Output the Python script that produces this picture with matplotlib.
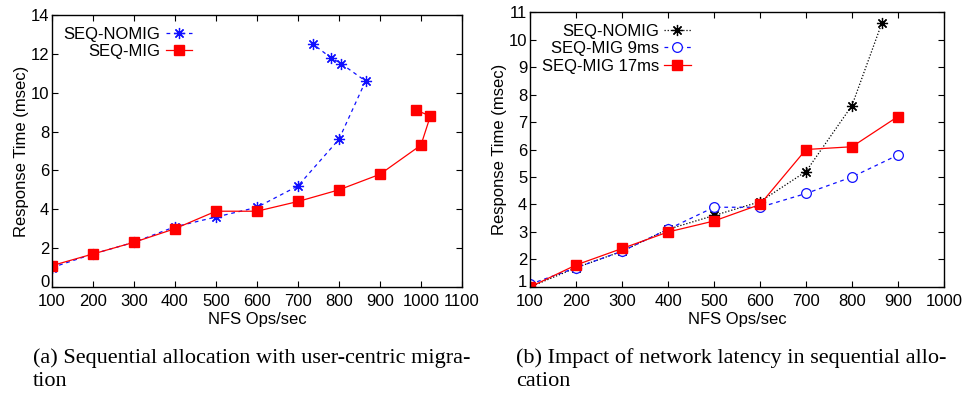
import numpy as np
import matplotlib.pyplot as plt

# (a) Sequential allocation with user-centric migration
a_nomig_x = [100, 200, 300, 400, 500, 600, 700, 800, 865, 805, 780, 737]
a_nomig_y = [1.0, 1.7, 2.3, 3.1, 3.6, 4.1, 5.2, 7.6, 10.6, 11.5, 11.8, 12.5]
a_mig_x = [100, 200, 300, 400, 500, 600, 700, 800, 900, 1000, 1023, 988]
a_mig_y = [1.1, 1.7, 2.3, 3.0, 3.9, 3.9, 4.4, 5.0, 5.8, 7.3, 8.8, 9.1]

# (b) Impact of network latency
b_x = [100, 200, 300, 400, 500, 600, 700, 800, 900]
b_nomig_x = [100, 200, 300, 400, 500, 600, 700, 800, 865]
b_nomig_y = [1.0, 1.7, 2.3, 3.1, 3.6, 4.1, 5.2, 7.6, 10.6]
b_mig9_y = [1.1, 1.7, 2.3, 3.1, 3.9, 3.9, 4.4, 5.0, 5.8]
b_mig17_y = [1.0, 1.8, 2.4, 3.0, 3.4, 4.0, 6.0, 6.1, 7.2]

plt.rcParams['font.family'] = ['Liberation Sans', 'DejaVu Sans']
plt.rcParams['font.size'] = 12

fig = plt.figure(figsize=(9.66, 3.94), dpi=100)
ax1 = fig.add_axes([0.0538, 0.2716, 0.4244, 0.6904])
ax2 = fig.add_axes([0.5487, 0.2716, 0.4285, 0.6979])

star = (8, 2, 0)

ax1.plot(a_nomig_x, a_nomig_y, color='#1010ff', ls=(0, (3, 3)), lw=0.9,
         marker=star, ms=8, mew=0.9, label='SEQ-NOMIG')
ax1.plot(a_mig_x, a_mig_y, color='#ff0000', ls='-', lw=0.9,
         marker='s', ms=7, label='SEQ-MIG')
ax1.set_xlim(100, 1100)
ax1.set_ylim(0, 14)
ax1.set_xticks(np.arange(100, 1101, 100))
ax1.set_yticks(np.arange(0, 15, 2))

ax2.plot(b_nomig_x, b_nomig_y, color='black', ls=(0, (1, 1.5)), lw=0.9,
         marker=star, ms=8, mew=0.9, label='SEQ-NOMIG')
ax2.plot(b_x, b_mig9_y, color='#1010ff', ls=(0, (3, 3)), lw=0.9,
         marker='o', ms=7, mfc='white', mew=0.9, label='SEQ-MIG 9ms')
ax2.plot(b_x, b_mig17_y, color='#ff0000', ls='-', lw=0.9,
         marker='s', ms=7, label='SEQ-MIG 17ms')
ax2.set_xlim(100, 1000)
ax2.set_ylim(1, 11)
ax2.set_xticks(np.arange(100, 1001, 100))
ax2.set_yticks(np.arange(1, 12, 1))

for ax in (ax1, ax2):
    ax.tick_params(direction='in', top=True, right=True, length=4, width=0.8)
    ax.tick_params(axis='x', pad=5, labelsize=12)
    ax.tick_params(axis='y', pad=2, labelsize=12)
    plt.setp(ax.get_yticklabels(), va='center_baseline')
    # lowest y label sits just above the x labels
    ax.get_yticklabels()[0].set_va('baseline')
    ax.set_xlabel('NFS Ops/sec', labelpad=2, fontsize=12)
    ax.set_ylabel('Response Time (msec)', labelpad=1, fontsize=12)
    for s in ax.spines.values():
        s.set_linewidth(1.0)
    ax.legend(loc='upper left', frameon=False, markerfirst=False,
              handlelength=1.6, handletextpad=0.3, labelspacing=0.15,
              borderaxespad=0.3, fontsize=12)
    leg = ax.get_legend()
    for t in leg.get_texts():
        t.set_ha('right')

cap = dict(fontfamily='Liberation Serif', fontsize=16, va='center', ha='left')
fig.text(0.034, 1 - 358 / 394, '(a) Sequential allocation with user-centric migra-', **cap)
fig.text(0.034, 1 - 382 / 394, 'tion', **cap)
fig.text(0.534, 1 - 358 / 394, '(b) Impact of network latency in sequential allo-', **cap)
fig.text(0.534, 1 - 382 / 394, 'cation', **cap)

fig.savefig('out.png', dpi=100)
